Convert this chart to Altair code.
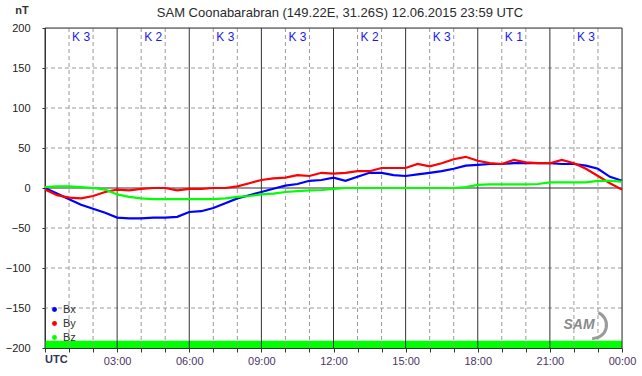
import altair as alt
import pandas as pd

FONT = "Liberation Sans"

# ---- data -------------------------------------------------------------
hours = [i * 0.5 for i in range(49)]
bx = [0, -7, -14, -21, -26, -31, -37, -38, -38, -37, -37, -36, -30, -29, -25, -19,
      -13, -9, -5, -1, 3, 5, 9, 10, 13, 9, 14, 19, 19, 16, 15, 17, 19, 21, 24, 28,
      29, 30, 30, 31, 31, 31, 31, 30, 30, 28, 24, 14, 9]
by = [-2, -9, -12, -13, -10, -5, -2, -3, -1, 0, 0, -3, -1, -1, 0, 0,
      2, 6, 10, 12, 13, 16, 15, 19, 18, 19, 21, 21, 25, 25, 25, 30, 27, 31, 36, 39,
      34, 31, 30, 35, 32, 31, 31, 35, 31, 24, 15, 6, -2]
bz = [1, 2, 2, 1, 0, -2, -8, -11, -13, -14, -14, -14, -14, -14, -14, -13,
      -11, -10, -8, -7, -5, -4, -3, -2.5, -1, 0, 0, 0, 0, 0, 0, 0, 0, 0, 0, 1,
      4, 4.5, 4.5, 4.5, 4.5, 5, 7, 7, 7, 7, 9, 9, 8]
components = ["Bx", "By", "Bz"]
comp_colors = ["#0000ff", "#ff0000", "#00ff00"]
k_values = [3, 2, 3, 3, 2, 3, 1, 3]
k_centers = [1.5 + 3 * i for i in range(8)]
y_ticks = [-200, -150, -100, -50, 0, 50, 100, 150, 200]
hour_ticks = list(range(25))
quality_band = {"start": [0], "end": [24], "lo": [-200], "hi": [-191]}
title_text = "SAM Coonabarabran (149.22E, 31.26S) 12.06.2015 23:59 UTC"

# ---- frames -----------------------------------------------------------
n = len(hours)
df = pd.DataFrame({
    "t": hours * 3,
    "value": bx + by + bz,
    "comp": ["Bx"] * n + ["By"] * n + ["Bz"] * n,
})
vlines = pd.DataFrame({"t": hour_ticks,
                       "major": [h % 3 == 0 for h in hour_ticks]})
hlines = pd.DataFrame({"v": y_ticks})
kdf = pd.DataFrame({"t": k_centers, "label": [f"K {k}" for k in k_values]})
band = pd.DataFrame(quality_band)
one = pd.DataFrame({"a": [0]})

xs = alt.Scale(domain=[0, 24], nice=False, zero=False)
ys = alt.Scale(domain=[-200, 200], nice=False)

label_expr = ("(datum.value % 3 != 0 || datum.value == 0) ? '' : "
              "(datum.value == 24 ? '00:00' : "
              "(datum.value < 10 ? '0' : '') + datum.value + ':00')")

x_axis = alt.Axis(values=hour_ticks, tickSize=4, labelExpr=label_expr,
                  labelFontSize=11, labelColor="#4d3366", labelPadding=3,
                  domainColor="#333333", tickColor="#333333", grid=False,
                  title=None, labelFlush=False, labelOverlap=False,
                  labelFont=FONT)
y_axis = alt.Axis(values=y_ticks, tickSize=3, labelPadding=12,
                  labelFontSize=11, labelColor="#222222",
                  domainColor="#333333", tickColor="#333333", grid=False,
                  title=None, labelFont=FONT, labelFlush=False,
                  labelOverlap=False)


def X(field):
    return alt.X(field, scale=xs, axis=x_axis)


def Y(field):
    return alt.Y(field, scale=ys, axis=y_axis)


band_layer = alt.Chart(band).mark_rect(color="#00ff00").encode(
    x=X("start:Q"), x2="end:Q", y=Y("lo:Q"), y2="hi:Q")

dash_v = alt.Chart(vlines).transform_filter("!datum.major").mark_rule(
    color="#9a9a9a", strokeDash=[4, 3], strokeWidth=1).encode(x=X("t:Q"))

dash_h = alt.Chart(hlines).transform_filter(
    "datum.v != 0 && abs(datum.v) != 200").mark_rule(
    color="#9a9a9a", strokeDash=[4, 3], strokeWidth=1).encode(y=Y("v:Q"))

solid_h = alt.Chart(hlines).transform_filter(
    "datum.v == 0 || datum.v == 200").mark_rule(
    color="#333333", strokeWidth=1).encode(y=Y("v:Q"))

solid_v = alt.Chart(vlines).transform_filter("datum.major").mark_rule(
    color="#333333", strokeWidth=1).encode(x=X("t:Q"))

lines = alt.Chart(df).mark_line(strokeWidth=2.2).encode(
    x=X("t:Q"),
    y=Y("value:Q"),
    color=alt.Color("comp:N",
                    scale=alt.Scale(domain=components, range=comp_colors),
                    legend=alt.Legend(orient="none", legendX=4, legendY=276,
                                      title=None, symbolType="circle",
                                      symbolSize=6, symbolStrokeWidth=2.5,
                                      labelFontSize=11, labelFont=FONT,
                                      labelColor="#333333", labelOffset=3,
                                      rowPadding=1, padding=0)),
    order=alt.Order("t:Q"),
)

k_layer = alt.Chart(kdf).mark_text(font=FONT, fontSize=12, color="#1a1aee",
                                   baseline="middle").encode(
    x=X("t:Q"), y=alt.value(9), text="label:N")

title_layer = alt.Chart(one).mark_text(
    text=title_text, font=FONT, fontSize=13, color="#2a2a2a",
    baseline="middle").encode(x=alt.value(295), y=alt.value(-15))

nt_layer = alt.Chart(one).mark_text(
    text="nT", font=FONT, fontSize=11, fontWeight="bold", color="#333333",
    baseline="middle").encode(x=alt.value(-23), y=alt.value(-17))

utc_layer = alt.Chart(one).mark_text(
    text="UTC", font=FONT, fontSize=11, fontWeight="bold", color="#333355",
    baseline="middle", align="left").encode(x=X("a:Q"), y=alt.value(332))

logo_text = alt.Chart(one).mark_text(
    text="SAM", font=FONT, fontSize=14, fontStyle="italic", fontWeight="bold",
    color="#8a8a8a", baseline="middle").encode(
    x=alt.value(534), y=alt.value(297))

logo_arc = alt.Chart(one).mark_arc(
    radius=15, radius2=12, theta=0.4, theta2=3.2, color="#9a9a9a").encode(
    x=alt.value(548), y=alt.value(297))

chart = alt.layer(
    band_layer, dash_v, dash_h, solid_h, solid_v, lines,
    k_layer, title_layer, nt_layer, utc_layer, logo_arc, logo_text,
).properties(
    width=577, height=320, autosize="none",
    padding={"left": 45, "top": 28, "right": 20, "bottom": 28},
).configure_view(strokeWidth=0).configure(background="white")

chart.save("out.html", embed_options={"renderer": "svg", "actions": False})
